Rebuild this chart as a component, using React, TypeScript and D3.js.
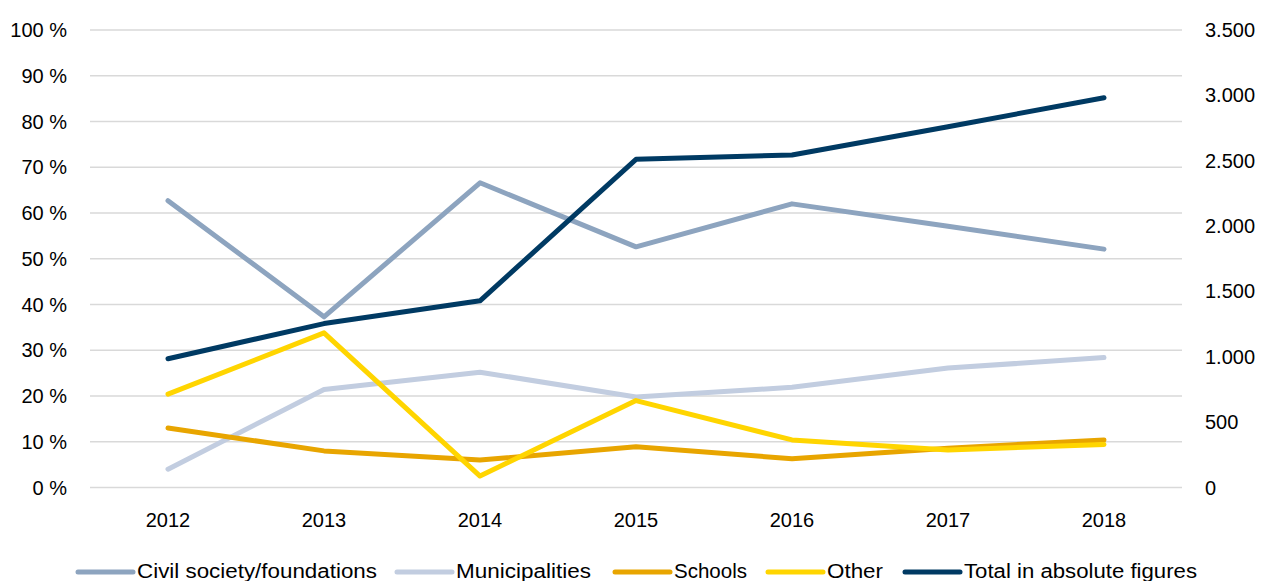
import React from "react";
import * as d3 from "d3";

const years = ["2012", "2013", "2014", "2015", "2016", "2017", "2018"];
const civilSociety = [62.7, 37.3, 66.6, 52.6, 62.0, 57.1, 52.1];
const municipalities = [4.0, 21.4, 25.2, 19.8, 21.9, 26.1, 28.4];
const schools = [13.0, 8.0, 6.0, 8.9, 6.3, 8.6, 10.4];
const other = [20.4, 33.8, 2.5, 19.0, 10.4, 8.2, 9.4];
const totalAbsolute = [985, 1254, 1428, 2511, 2544, 2760, 2982];

const leftTicks = [0, 10, 20, 30, 40, 50, 60, 70, 80, 90, 100];
const rightTicks = [0, 500, 1000, 1500, 2000, 2500, 3000, 3500];

const seriesNames = ["Civil society/foundations", "Municipalities", "Schools", "Other", "Total in absolute figures"];
const seriesColors = ["#8DA4BF", "#C2CDE0", "#E8A500", "#FFD500", "#003A63"];

const W = 1263;
const H = 581;
const m = { left: 90, right: 1182, top: 30, bottom: 487.5 };
const FONT = "'Liberation Sans', Arial, sans-serif";

export default function App() {
  const x = d3.scaleBand<string>().domain(years).range([m.left, m.right]);
  const cx = (y: string) => (x(y) as number) + x.bandwidth() / 2;
  const yL = d3.scaleLinear().domain([0, 100]).range([m.bottom, m.top]);
  const yR = d3.scaleLinear().domain([0, 3500]).range([m.bottom, m.top]);

  const lineL = d3.line<number>().x((_, i) => cx(years[i])).y((d) => yL(d));
  const lineR = d3.line<number>().x((_, i) => cx(years[i])).y((d) => yR(d));

  const pctSeries = [civilSociety, municipalities, schools, other];

  const legendX = [78, 397, 615, 768, 905];
  const legendTextW = [240, 135, 73, 56, 233];
  const fmtR = (v: number) => (v === 0 ? "0" : d3.format(",")(v).replace(/,/g, "."));

  return (
    <svg width={W} height={H} style={{ position: "absolute", left: 0, top: 0, background: "#fff" }} fontFamily={FONT}>
      {leftTicks.map((t) => (
        <line key={"g" + t} x1={m.left} x2={m.right} y1={yL(t)} y2={yL(t)} stroke="#D9D9D9" strokeWidth={1.5} />
      ))}
      {leftTicks.map((t) => (
        <text key={"l" + t} x={67} y={yL(t)} dy="0.35em" textAnchor="end" fontSize={20} fill="#000">
          {t} %
        </text>
      ))}
      {rightTicks.map((t) => (
        <text key={"r" + t} x={1205} y={yR(t)} dy="0.35em" textAnchor="start" fontSize={20} fill="#000">
          {fmtR(t)}
        </text>
      ))}
      {years.map((y) => (
        <text key={"x" + y} x={cx(y)} y={527} textAnchor="middle" fontSize={20} fill="#000">
          {y}
        </text>
      ))}
      {pctSeries.map((s, i) => (
        <path key={"s" + i} d={lineL(s) as string} fill="none" stroke={seriesColors[i]} strokeWidth={5} strokeLinecap="round" strokeLinejoin="round" />
      ))}
      <path d={lineR(totalAbsolute) as string} fill="none" stroke={seriesColors[4]} strokeWidth={5} strokeLinecap="round" strokeLinejoin="round" />
      {seriesNames.map((n, i) => (
        <g key={"lg" + i}>
          <line x1={legendX[i]} x2={legendX[i] + 55} y1={572} y2={572} stroke={seriesColors[i]} strokeWidth={5} strokeLinecap="round" />
          <text x={legendX[i] + 59} y={578} fontSize={20} fill="#000" textLength={legendTextW[i]} lengthAdjust="spacingAndGlyphs">
            {n}
          </text>
        </g>
      ))}
    </svg>
  );
}
